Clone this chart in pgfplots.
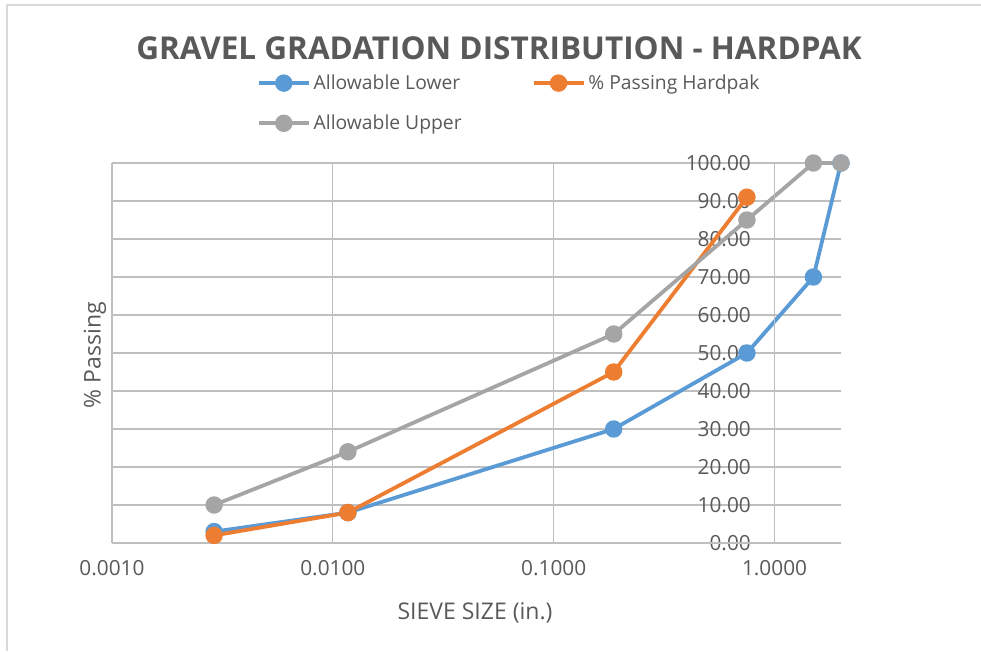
\documentclass[border=0pt]{standalone}
\usepackage{pgfplots}
\pgfplotsset{compat=1.18}
\usepackage{fontspec}
\setmainfont{Open Sans}
\definecolor{cblue}{HTML}{5B9BD5}
\definecolor{corange}{HTML}{ED7D31}
\definecolor{cgray}{HTML}{A5A5A5}
\definecolor{txt}{HTML}{595959}
\definecolor{grid}{HTML}{D9D9D9}
\definecolor{axline}{HTML}{BFBFBF}
\begin{document}
\begin{tikzpicture}[x=1pt,y=1pt]
\path[use as bounding box] (0,0) rectangle (981,651);
\draw[grid, line width=1.5pt] (7,0) -- (7,646) -- (981,646);
\begin{axis}[
  at={(112pt,108pt)}, anchor=south west,
  scale only axis, width=729pt, height=380pt,
  xmode=log, xmin=0.001, xmax=2, ymin=0, ymax=100,
  xtick={0.001,0.01,0.1,1},
  xticklabels={0.0010,0.0100,0.1000,1.0000},
  ytick={0,10,...,100},
  yticklabels={0.00,10.00,20.00,30.00,40.00,50.00,60.00,70.00,80.00,90.00,100.00},
  minor xtick={},
  major tick length=0pt, minor tick length=0pt,
  tick style={draw=none},
  grid=major,
  major grid style={grid, line width=1.3pt},
  axis line style={draw=none},
  tick label style={font=\fontsize{20.8}{23}\selectfont, text=txt},
  xticklabel style={yshift=-14pt},
  yticklabel style={anchor=east, inner sep=0pt, xshift=639pt},
  clip=false,
  legend columns=2,
  legend cell align=left,
  legend style={at={(0.1985,1.232)}, anchor=north west, draw=none, fill=none,
    inner sep=0pt, font=\fontsize{19.3}{22}\selectfont, text=txt,
    /tikz/every even column/.append style={column sep=67pt},
    /tikz/every odd column/.append style={column sep=0pt},
    row sep=24pt, nodes={inner xsep=3pt, inner ysep=0pt}},
  legend image code/.code={\draw[#1, mark repeat=2, mark phase=2] plot coordinates {(0pt,0pt) (25pt,0pt) (50pt,0pt)};},
  every axis plot/.append style={line width=3.8pt, mark=*, mark size=6.8pt, mark options={solid, line width=0.5pt}},
]
\addplot[cblue, mark options={fill=cblue}] coordinates {(0.0029,3) (0.0117,8) (0.187,30) (0.75,50) (1.5,70) (2.0,100)};
\addlegendentry{Allowable Lower}
\addplot[corange, mark options={fill=corange}] coordinates {(0.0029,2) (0.0117,8) (0.187,45) (0.75,91)};
\addlegendentry{\% Passing Hardpak}
\addplot[cgray, mark options={fill=cgray}] coordinates {(0.0029,10) (0.0117,24) (0.187,55) (0.75,85) (1.5,100) (2.0,100)};
\addlegendentry{Allowable Upper}
\draw[axline, line width=1.3pt] (axis cs:0.001,0) -- (axis cs:2,0);
\draw[axline, line width=1.3pt] (axis cs:1,0) -- (axis cs:1,100);
\end{axis}
\node[text=txt, font=\bfseries\fontsize{31.5}{34}\selectfont] at (499,603) {GRAVEL GRADATION DISTRIBUTION - HARDPAK};
\node[text=txt, font=\fontsize{23}{25}\selectfont] at (475,38) {SIEVE SIZE (in.)};
\node[text=txt, font=\fontsize{23}{25}\selectfont, rotate=90] at (95,296) {\% Passing};
\end{tikzpicture}
\end{document}
